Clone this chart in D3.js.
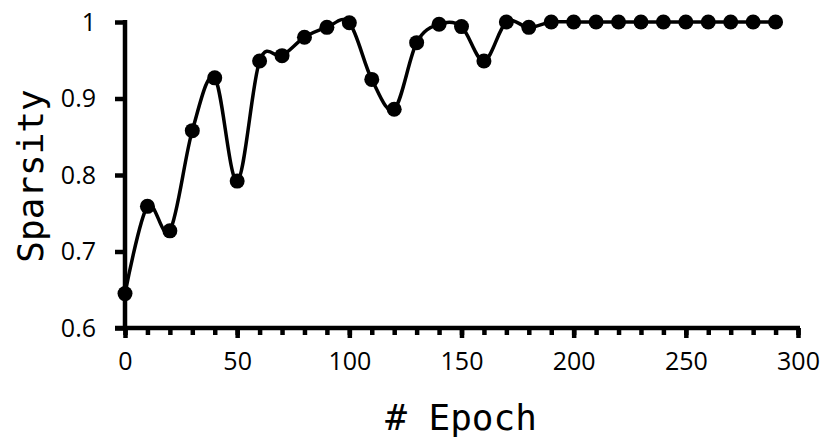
<!DOCTYPE html>
<html lang="en">
<head>
<meta charset="UTF-8">
<title>Sparsity vs Epoch</title>
<style>
    body{ margin:0; background:#fff; }
    .axis path, .axis line{ stroke:#000; stroke-width:4.5px; }
    .axis text{ font-family:"Open Sans", sans-serif; font-size:25px; fill:#000; }
    .label{ font-family:"DejaVu Sans Mono", monospace; font-size:36px; fill:#000; }
    .curve{ fill:none; stroke:#000; stroke-width:3.5px; }
</style>
<script src="https://cdn.jsdelivr.net/npm/d3@7"></script>
</head>
<body>
<div id="container"></div>
<script>
// data
const epochs = [0,10,20,30,40,50,60,70,80,90,100,110,120,130,140,150,160,170,180,190,200,210,220,230,240,250,260,270,280,290];
const sparsity = [0.645,0.759,0.727,0.858,0.927,0.792,0.949,0.956,0.980,0.993,0.999,0.925,0.886,0.973,0.997,0.994,0.949,1.0,0.993,1.0,1.0,1.0,1.0,1.0,1.0,1.0,1.0,1.0,1.0,1.0];
const xMajorTicks = [0,50,100,150,200,250,300];
const yTicks = [0.6,0.7,0.8,0.9,1.0];
const yTickLabels = ["0.6","0.7","0.8","0.9","1"];

const width = 831, height = 440;
const svg = d3.select("#container").append("svg")
    .attr("width", width).attr("height", height);

const xScale = d3.scaleLinear().domain([0,300]).range([125,798]);
const yScale = d3.scaleLinear().domain([0.6,1]).range([328,22]);

// minor x ticks
svg.append("g").attr("class","axis")
    .attr("transform",`translate(0,${yScale(0.6)})`)
    .call(d3.axisBottom(xScale).tickValues(d3.range(0,301,10)).tickSize(7).tickSizeOuter(0).tickFormat(""))
    .select(".domain").remove();

// major x ticks + line
const xAxis = svg.append("g").attr("class","axis")
    .attr("transform",`translate(0,${yScale(0.6)})`)
    .call(d3.axisBottom(xScale).tickValues(xMajorTicks).tickSize(10).tickSizeOuter(0).tickPadding(14));
xAxis.select(".domain").attr("d", `M115,0H${xScale(300)+2}`);

const yAxis = svg.append("g").attr("class","axis")
    .attr("transform",`translate(${xScale(0)},0)`)
    .call(d3.axisLeft(yScale).tickValues(yTicks).tickSize(10).tickSizeOuter(0).tickPadding(19)
        .tickFormat((d,i)=>yTickLabels[i]));
yAxis.select(".domain").attr("d", `M0,${yScale(0.6)}V${yScale(1)-2}`);

const pts = epochs.map((e,i)=>({x:e, y:sparsity[i]}));
const lineGen = d3.line().x(d=>xScale(d.x)).y(d=>yScale(d.y)).curve(d3.curveCatmullRom.alpha(0));

svg.append("path").attr("class","curve").attr("d", lineGen(pts));

svg.append("g").selectAll("circle").data(pts).enter().append("circle")
    .attr("cx", d=>xScale(d.x)).attr("cy", d=>yScale(d.y)).attr("r", 7.5).attr("fill","#000");

svg.append("text").attr("class","label")
    .attr("text-anchor","middle")
    .attr("transform","translate(43,176) rotate(-90)")
    .text("Sparsity");

svg.append("text").attr("class","label")
    .attr("text-anchor","middle")
    .attr("x", 461).attr("y", 430)
    .text("# Epoch");
</script>
</body>
</html>
